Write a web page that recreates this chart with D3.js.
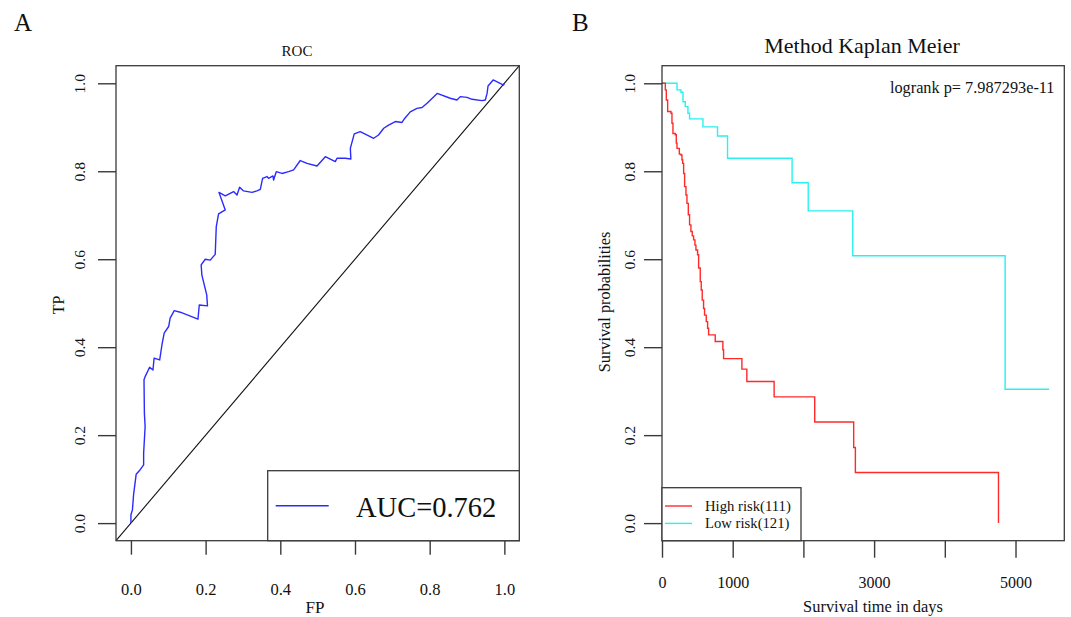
<!DOCTYPE html>
<html>
<head>
<meta charset="utf-8">
<script src="https://cdn.jsdelivr.net/npm/d3@7/dist/d3.min.js"></script>
<style>
  html, body { margin: 0; padding: 0; background: #fff; }
  svg { display: block; }
  text { font-family: "Liberation Serif", "Times New Roman", serif; fill: #111; }
</style>
</head>
<body>
<svg id="chart" width="1071" height="617"></svg>
<script>
// ---------- Data ----------
// Panel A: ROC curve (false positive rate vs true positive rate)
const rocFP = [0, 0, 0.004, 0.007, 0.014, 0.023, 0.034, 0.034, 0.038, 0.036, 0.035, 0.038, 0.050, 0.059, 0.062, 0.077, 0.083, 0.089, 0.101, 0.105, 0.116, 0.132, 0.1795, 0.183, 0.205, 0.203, 0.190, 0.188, 0.199, 0.2125, 0.2257, 0.2285, 0.2347, 0.2526, 0.2357, 0.2526, 0.2749, 0.284, 0.291, 0.3017, 0.324, 0.3375, 0.3464, 0.3526, 0.3643, 0.3686, 0.3804, 0.382, 0.3892, 0.4045, 0.4222, 0.4356, 0.4535, 0.4715, 0.4983, 0.5205, 0.5473, 0.5518, 0.574, 0.589, 0.5875, 0.598, 0.614, 0.650, 0.663, 0.677, 0.690, 0.708, 0.726, 0.733, 0.748, 0.766, 0.7795, 0.793, 0.820, 0.855, 0.873, 0.882, 0.900, 0.9135, 0.940, 0.949, 0.9537, 0.9563, 0.970, 0.998, 1.0];
const rocTP = [0, 0.019, 0.030, 0.064, 0.111, 0.1195, 0.1325, 0.159, 0.2195, 0.25, 0.326, 0.333, 0.3545, 0.348, 0.375, 0.371, 0.405, 0.432, 0.447, 0.466, 0.483, 0.4795, 0.4636, 0.496, 0.494, 0.519, 0.564, 0.587, 0.600, 0.598, 0.611, 0.674, 0.703, 0.712, 0.752, 0.744, 0.7537, 0.746, 0.7636, 0.7553, 0.752, 0.7553, 0.759, 0.784, 0.788, 0.784, 0.7893, 0.780, 0.799, 0.795, 0.799, 0.803, 0.8244, 0.818, 0.812, 0.833, 0.822, 0.8295, 0.8295, 0.828, 0.852, 0.885, 0.890, 0.875, 0.8825, 0.8977, 0.905, 0.913, 0.911, 0.920, 0.935, 0.943, 0.945, 0.9545, 0.977, 0.966, 0.962, 0.9697, 0.968, 0.9636, 0.9606, 0.962, 0.977, 0.9939, 1.0076, 0.996, 1.0];
const rocTicks = [0.0, 0.2, 0.4, 0.6, 0.8, 1.0];
const aucLabel = "AUC=0.762";

// Panel B: Kaplan-Meier curves
const highTime = [0, 47, 61, 80, 127, 141, 155, 188, 202, 212, 245, 268, 282, 292, 306, 320, 339, 353, 372, 390, 409, 428, 447, 466, 480, 503, 518, 541, 555, 569, 588, 602, 626, 645, 659, 753, 861, 871, 1130, 1200, 1586, 2160, 2711, 2735, 4759];
const highSurv = [1.0, 0.985, 0.962, 0.936, 0.932, 0.909, 0.886, 0.883, 0.864, 0.852, 0.839, 0.837, 0.826, 0.818, 0.795, 0.765, 0.746, 0.727, 0.701, 0.678, 0.663, 0.653, 0.644, 0.632, 0.621, 0.610, 0.580, 0.549, 0.530, 0.507, 0.488, 0.473, 0.458, 0.443, 0.428, 0.413, 0.394, 0.374, 0.350, 0.322, 0.287, 0.230, 0.172, 0.115, 0.0];
const lowTime = [0, 212, 268, 297, 329, 367, 390, 579, 785, 927, 1840, 2068, 2698, 4853, 5474];
const lowSurv = [1.0, 0.985, 0.9795, 0.958, 0.947, 0.932, 0.919, 0.901, 0.880, 0.8295, 0.774, 0.710, 0.608, 0.3045, 0.3045];
const kmXTicks = [0, 1000, 2000, 3000, 4000, 5000];
const kmXLabels = ["0", "1000", "", "3000", "", "5000"];
const kmYTicks = [0.0, 0.2, 0.4, 0.6, 0.8, 1.0];
const groupNames = ["High risk(111)", "Low risk(121)"];
const groupColors = ["#ff2a2a", "#2af0f0"];
const pValueLabel = "logrank p= 7.987293e-11";

// ---------- Drawing ----------
const svg = d3.select("#chart");
const boxColor = "#3a3a3a";

// Panel labels
svg.append("text").attr("x", 14).attr("y", 31).attr("font-size", 25).text("A");
svg.append("text").attr("x", 572).attr("y", 31).attr("font-size", 25).text("B");

// ----- Panel A -----
const ax = d3.scaleLinear().domain([-0.04, 1.04]).range([116, 519.3]);
const ay = d3.scaleLinear().domain([-0.04, 1.04]).range([540.7, 65.7]);

const gA = svg.append("g");
// x axis
const xAxisA = d3.axisBottom(ax).tickValues(rocTicks).tickFormat(d3.format(".1f")).tickSize(14).tickPadding(0);
const gxa = gA.append("g").attr("transform", `translate(0,${ay.range()[0]})`).call(xAxisA);
gxa.select(".domain").remove();
gxa.selectAll(".tick line").attr("stroke", boxColor).attr("stroke-width", 1.4);
gxa.selectAll(".tick text").attr("font-size", 16.5).attr("dy", null).attr("y", 54)
   .style("font-family", '"Liberation Serif", serif').attr("fill", "#111");
// y axis
const yAxisA = d3.axisLeft(ay).tickValues(rocTicks).tickFormat(d3.format(".1f")).tickSize(18).tickPadding(0);
const gya = gA.append("g").attr("transform", `translate(${ax.range()[0]},0)`).call(yAxisA);
gya.select(".domain").remove();
gya.selectAll(".tick line").attr("stroke", boxColor).attr("stroke-width", 1.4);
gya.selectAll(".tick text").attr("font-size", 15.5).attr("x", null).attr("dy", null)
   .attr("text-anchor", "middle").attr("transform", "translate(-31,0) rotate(-90)")
   .style("font-family", '"Liberation Serif", serif').attr("fill", "#111");

// diagonal
gA.append("line")
  .attr("x1", ax(-0.04)).attr("y1", ay(-0.04)).attr("x2", ax(1.04)).attr("y2", ay(1.04))
  .attr("stroke", "#111").attr("stroke-width", 1.1);

// ROC line
const rocData = rocFP.map((f, i) => [f, rocTP[i]]);
gA.append("path").datum(rocData)
  .attr("fill", "none").attr("stroke", "#2b2bff").attr("stroke-width", 1.4)
  .attr("stroke-linejoin", "round")
  .attr("d", d3.line().x(d => ax(d[0])).y(d => ay(d[1])));

// frame
gA.append("rect").attr("x", 116).attr("y", 65.7).attr("width", 519.3 - 116).attr("height", 540.7 - 65.7)
  .attr("fill", "none").attr("stroke", boxColor).attr("stroke-width", 1.3);

// legend A
gA.append("rect").attr("x", 267.7).attr("y", 470.7).attr("width", 519.3 - 267.7).attr("height", 540.7 - 470.7)
  .attr("fill", "#fff").attr("stroke", boxColor).attr("stroke-width", 1.3);
gA.append("line").attr("x1", 275.7).attr("x2", 328.7).attr("y1", 505.7).attr("y2", 505.7)
  .attr("stroke", "#2b2bff").attr("stroke-width", 1.4);
gA.append("text").attr("x", 356).attr("y", 516.5).attr("font-size", 28.5).text(aucLabel);

// titles A
gA.append("text").attr("x", 297).attr("y", 56).attr("text-anchor", "middle").attr("font-size", 15).text("ROC");
gA.append("text").attr("x", 315).attr("y", 613).attr("text-anchor", "middle").attr("font-size", 17).text("FP");
gA.append("text").attr("transform", "translate(64,305) rotate(-90)").attr("text-anchor", "middle").attr("font-size", 16).text("TP");

// ----- Panel B -----
const bx = d3.scaleLinear().domain([0, 5690]).range([662, 1064.3]);
const by = d3.scaleLinear().domain([-0.04, 1.04]).range([540.7, 65.7]);
const gB = svg.append("g");

const xAxisB = d3.axisBottom(bx).tickValues(kmXTicks).tickFormat((d, i) => kmXLabels[i]).tickSize(17).tickPadding(0);
const gxb = gB.append("g").attr("transform", `translate(0,${by.range()[0]})`).call(xAxisB);
gxb.select(".domain").remove();
gxb.selectAll(".tick line").attr("stroke", boxColor).attr("stroke-width", 1.4);
gxb.selectAll(".tick text").attr("font-size", 16).attr("dy", null).attr("y", 47.5)
   .style("font-family", '"Liberation Serif", serif').attr("fill", "#111");

const yAxisB = d3.axisLeft(by).tickValues(kmYTicks).tickFormat(d3.format(".1f")).tickSize(18).tickPadding(0);
const gyb = gB.append("g").attr("transform", `translate(${bx.range()[0]},0)`).call(yAxisB);
gyb.select(".domain").remove();
gyb.selectAll(".tick line").attr("stroke", boxColor).attr("stroke-width", 1.4);
gyb.selectAll(".tick text").attr("font-size", 15.5).attr("x", null).attr("dy", null)
   .attr("text-anchor", "middle").attr("transform", "translate(-27,0) rotate(-90)")
   .style("font-family", '"Liberation Serif", serif').attr("fill", "#111");

const stepLine = d3.line().curve(d3.curveStepAfter).x(d => bx(d[0])).y(d => by(d[1]));
gB.append("path").datum(lowTime.map((t, i) => [t, lowSurv[i]]))
  .attr("fill", "none").attr("stroke", groupColors[1]).attr("stroke-width", 1.4).attr("d", stepLine);
gB.append("path").datum(highTime.map((t, i) => [t, highSurv[i]]))
  .attr("fill", "none").attr("stroke", groupColors[0]).attr("stroke-width", 1.4).attr("d", stepLine);

gB.append("rect").attr("x", 662).attr("y", 65.7).attr("width", 1064.3 - 662).attr("height", 540.7 - 65.7)
  .attr("fill", "none").attr("stroke", boxColor).attr("stroke-width", 1.3);

// legend B
gB.append("rect").attr("x", 662).attr("y", 487.7).attr("width", 801 - 662).attr("height", 540.7 - 487.7)
  .attr("fill", "#fff").attr("stroke", boxColor).attr("stroke-width", 1.3);
groupNames.forEach((name, i) => {
  const yy = 506 + i * 17.4;
  gB.append("line").attr("x1", 665).attr("x2", 692).attr("y1", yy).attr("y2", yy)
    .attr("stroke", groupColors[i]).attr("stroke-width", 1.4);
  gB.append("text").attr("x", 705).attr("y", yy + 5).attr("font-size", 14.7).text(name);
});

gB.append("text").attr("x", 1054.5).attr("y", 92.5).attr("text-anchor", "end").attr("font-size", 16.3).text(pValueLabel);
gB.append("text").attr("x", 862).attr("y", 53).attr("text-anchor", "middle").attr("font-size", 22).text("Method Kaplan Meier");
gB.append("text").attr("x", 873).attr("y", 611.5).attr("text-anchor", "middle").attr("font-size", 16.4).text("Survival time in days");
gB.append("text").attr("transform", "translate(610,302) rotate(-90)").attr("text-anchor", "middle").attr("font-size", 16.3).text("Survival probabilities");
</script>
</body>
</html>
